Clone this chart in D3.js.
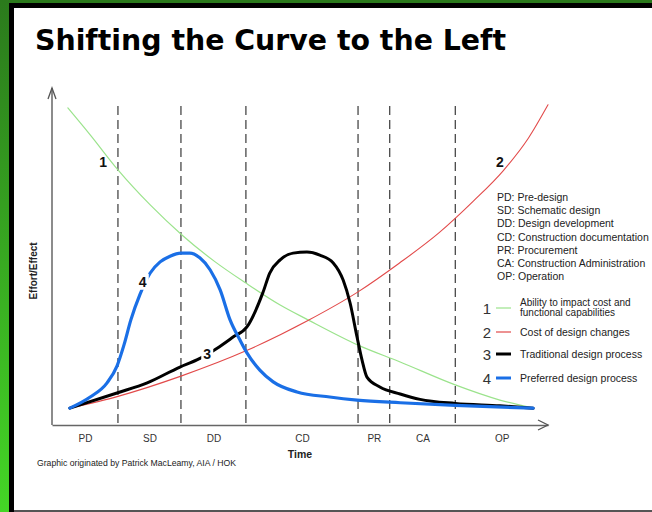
<!DOCTYPE html>
<html><head><meta charset="utf-8">
<script src="https://cdn.jsdelivr.net/npm/d3@7"></script>
<style>
html,body{margin:0;padding:0;background:#fff;}
svg{display:block;}
</style></head>
<body>
<svg id="c" width="652" height="512"></svg>
<script>
// ---- DATA ----
const title = "Shifting the Curve to the Left";
const phases = ["PD","SD","DD","CD","PR","CA","OP"];
const phaseBounds = [0, 13.3, 26.0, 39.1, 61.7, 68.1, 81.3, 100];
const phaseNames = ["PD: Pre-design","SD: Schematic design","DD: Design development","CD: Construction documentation","PR: Procurement","CA: Construction Administration","OP: Operation"];
const seriesNames = [["Ability to impact cost and","functional capabilities"],["Cost of design changes"],["Traditional design process"],["Preferred design process"]];
const greenT = [3.2,7.7,13.3,19.8,26.2,32.9,39.1,46.0,51.6,61.7,70.2,81.3,90.3,97.0];
const greenV = [94.1,86.1,75.7,65.3,56.4,48.4,42.1,35.6,31.2,23.7,18.7,11.9,7.4,5.0];
const redT = [3.6,13.3,26.0,39.1,51.6,61.7,70.0,78.0,85.0,91.0,96.0,100];
const redV = [5.0,8.5,14.5,22.0,31.0,39.5,48.0,57.0,66.5,75.5,85.0,95.0];
const blackT = [3.6,13.1,19.2,25.8,29.2,33.3,36.5,39.3,42.5,43.9,46.0,48.6,51.4,54.0,56.7,58.7,60.1,61.5,62.5,63.5,66.1,70.2,74.2,81.3,90.3,97.0];
const blackV = [5.0,9.5,12.5,17.2,19.3,22.8,26.1,29.1,39.2,45.1,49.0,51.0,51.3,50.4,48.1,43.0,36.2,26.1,19.3,14.2,11.3,9.2,7.6,6.4,5.7,5.0];
const blueT = [3.6,7.7,11.1,13.1,14.5,15.9,17.7,19.8,21.8,23.8,26.0,27.8,29.8,31.9,33.9,35.9,37.9,39.3,41.9,44.6,49.4,56.0,61.5,70.2,81.3,97.0];
const blueV = [5.0,8.3,12.5,17.5,23.7,31.2,38.6,45.1,48.4,50.1,51.0,51.0,49.6,46.0,40.1,31.2,25.2,21.4,16.3,12.8,9.8,8.3,7.4,6.6,5.8,5.0];
const curveLabels = ["1","2","3","4"];
const labelT = [10.3, 90.3, 31.3, 18.3];
const labelV = [78, 78, 21, 42.5];

// ---- LAYOUT ----
const svg = d3.select("#c");
const x = d3.scaleLinear().domain([0,100]).range([52,548]);
const y = d3.scaleLinear().domain([0,100]).range([425,88]);

// frame
const defs = svg.append("defs");
const g1 = defs.append("linearGradient").attr("id","lg").attr("x1",0).attr("y1",0).attr("x2",0).attr("y2",1);
g1.append("stop").attr("offset","0%").attr("stop-color","#2b7a1c");
g1.append("stop").attr("offset","100%").attr("stop-color","#44d626");
svg.append("rect").attr("x",0).attr("y",0).attr("width",652).attr("height",512).attr("fill","#fff");
svg.append("rect").attr("x",0).attr("y",0).attr("width",652).attr("height",3).attr("fill","#2b7a1c");
svg.append("rect").attr("x",9).attr("y",3).attr("width",643).attr("height",5).attr("fill","#000");
svg.append("rect").attr("x",0).attr("y",0).attr("width",9).attr("height",512).attr("fill","url(#lg)");
svg.append("rect").attr("x",9).attr("y",3).attr("width",5).attr("height",509).attr("fill","#000");
svg.append("rect").attr("x",14).attr("y",510).attr("width",638).attr("height",2).attr("fill","#555");

// title
svg.append("text").attr("x",35).attr("y",50).text(title)
  .attr("font-family","'DejaVu Sans', Verdana, sans-serif").attr("font-weight","bold")
  .attr("font-size",28).attr("fill","#000").attr("textLength",471).attr("lengthAdjust","spacingAndGlyphs");

// dashed phase lines
svg.append("g").selectAll("line").data(phaseBounds.slice(1,-1)).join("line")
  .attr("x1",d=>x(d)).attr("x2",d=>x(d)).attr("y1",106).attr("y2",y(0))
  .attr("stroke","#111").attr("stroke-width",1).attr("stroke-dasharray","9,5");

// x axis
const mids = phases.map((p,i)=>(phaseBounds[i]+phaseBounds[i+1])/2);
const xa = svg.append("g").attr("transform",`translate(0,${y(0)})`)
  .call(d3.axisBottom(x).tickValues(mids).tickFormat((d,i)=>phases[i]).tickSize(0).tickSizeOuter(0).tickPadding(10));
xa.select(".domain").attr("stroke","#666").attr("stroke-width",1.5);
xa.selectAll("text").attr("font-family","'Liberation Sans', Arial, sans-serif").attr("font-size",10).attr("fill","#333");
// y axis line
svg.append("line").attr("x1",x(0)).attr("x2",x(0)).attr("y1",y(0)).attr("y2",y(100)).attr("stroke","#666").attr("stroke-width",1.5);
// arrows
svg.append("path").attr("d",`M${x(0)-4},${y(100)+11}L${x(0)},${y(100)}L${x(0)+4},${y(100)+11}`).attr("fill","none").attr("stroke","#555").attr("stroke-width",1.3);
svg.append("path").attr("d",`M${x(100)-10},${y(0)-5}L${x(100)},${y(0)}L${x(100)-10},${y(0)+5}`).attr("fill","none").attr("stroke","#555").attr("stroke-width",1.3);

// axis titles
svg.append("text").attr("x",x(50)).attr("y",458).attr("text-anchor","middle").text("Time")
  .attr("font-family","'Liberation Sans', Arial, sans-serif").attr("font-weight","bold").attr("font-size",10.5).attr("fill","#222");
svg.append("text").attr("transform","translate(37,271) rotate(-90)").attr("text-anchor","middle").text("Effort/Effect")
  .attr("font-family","'Liberation Sans', Arial, sans-serif").attr("font-weight","bold").attr("font-size",10).attr("fill","#222");
svg.append("text").attr("x",37).attr("y",466).text("Graphic originated by Patrick MacLeamy, AIA / HOK")
  .attr("font-family","'Liberation Sans Narrow', 'Liberation Sans', Arial, sans-serif").attr("font-size",9).attr("fill","#222")
  .attr("textLength",199).attr("lengthAdjust","spacingAndGlyphs");

// curves
const line = d3.line().x(d=>x(d[0])).y(d=>y(d[1])).curve(d3.curveMonotoneX);
const zip = (a,b)=>a.map((v,i)=>[v,b[i]]);
const series = [
  {pts: zip(greenT,greenV), color:"#9be38c", w:1.2},
  {pts: zip(redT,redV), color:"#e24a4a", w:1.1},
  {pts: zip(blackT,blackV), color:"#000", w:3},
  {pts: zip(blueT,blueV), color:"#1a6fe6", w:3.2}
];
svg.append("g").selectAll("path").data(series).join("path")
  .attr("d",d=>line(d.pts)).attr("fill","none").attr("stroke",d=>d.color).attr("stroke-width",d=>d.w)
  .attr("stroke-linejoin","round").attr("stroke-linecap","round");

// curve number labels (white backing makes the gap in the line)
const lg = svg.append("g");
curveLabels.forEach((t,i)=>{
  const cx = x(labelT[i]), cy = y(labelV[i]);
  if(i>=2) lg.append("rect").attr("x",cx-6).attr("y",cy-8).attr("width",12).attr("height",16).attr("fill","#fff");
  lg.append("text").attr("x",cx).attr("y",cy+5).attr("text-anchor","middle").text(t)
    .attr("font-family","'Liberation Sans', Arial, sans-serif").attr("font-size",14).attr("font-weight", "bold").attr("fill","#111");
});

// phase names legend
svg.append("g").selectAll("text").data(phaseNames).join("text")
  .attr("x",497).attr("y",(d,i)=>201+i*13.2).text(d=>d)
  .attr("font-family","'Liberation Sans', Arial, sans-serif").attr("font-size",10.5).attr("fill","#222");

// series legend
const legY = [308, 332, 354, 378];
const leg = svg.append("g");
series.forEach((s,i)=>{
  leg.append("text").attr("x",487).attr("y",legY[i]+6).attr("text-anchor","middle").text(curveLabels[i])
    .attr("font-family","'Liberation Sans', Arial, sans-serif").attr("font-size",15).attr("fill","#333");
  leg.append("line").attr("x1",496).attr("x2",511).attr("y1",legY[i]).attr("y2",legY[i])
    .attr("stroke",s.color).attr("stroke-width",s.w>2?3:1.2);
  const names = seriesNames[i];
  names.forEach((n,j)=>{
    leg.append("text").attr("x",520).attr("y",(names.length>1? legY[i]-2+j*10 : legY[i]+4)).text(n)
      .attr("font-family","'Liberation Sans', Arial, sans-serif").attr("font-size",names.length>1?10:10.5).attr("fill","#222");
  });
});
</script>
</body></html>
